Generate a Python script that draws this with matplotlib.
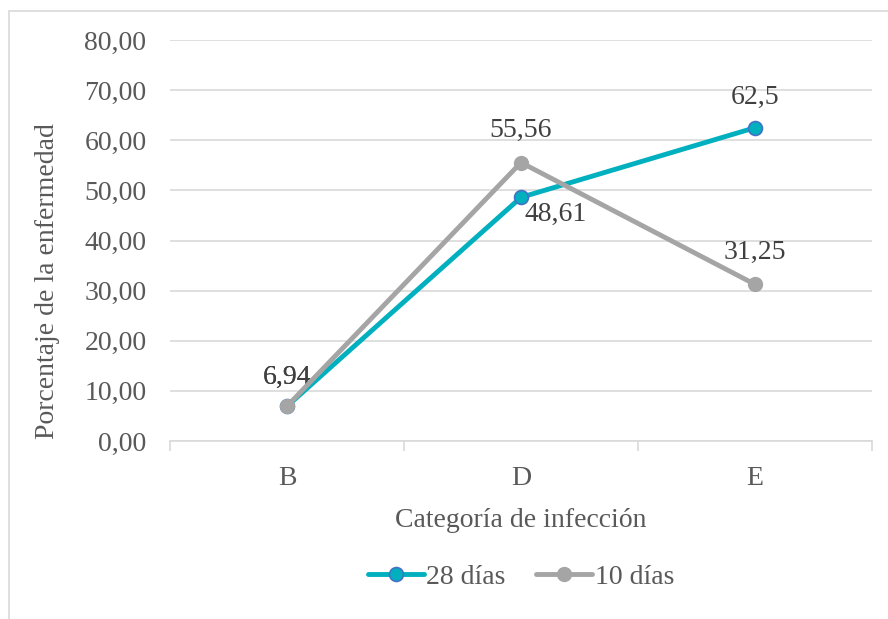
import matplotlib.pyplot as plt
from matplotlib.patches import Rectangle
from matplotlib.ticker import FixedLocator, FuncFormatter

plt.rcParams["font.family"] = ["Liberation Serif", "DejaVu Serif"]

categorias = ["B", "D", "E"]
dias_28 = [6.94, 48.61, 62.5]
dias_10 = [6.94, 55.56, 31.25]
etiquetas_28 = ["6,94", "48,61", "62,5"]
etiquetas_10 = ["6,94", "55,56", "31,25"]
y_ticks = [0, 10, 20, 30, 40, 50, 60, 70, 80]

TEAL = "#00B0BE"
GRIS = "#A5A5A5"
TEXTO = "#595959"
GRID = "#D9D9D9"

fig = plt.figure(figsize=(8.88, 6.19), dpi=100)
ax = fig.add_axes([170 / 888, 1 - 441 / 619, 702 / 888, 401 / 619])

# marco del área del gráfico
fig.patches.append(Rectangle((8.5 / 888, -0.05), 1.0, 1 - 11 / 619 + 0.05,
                             transform=fig.transFigure, fill=False,
                             edgecolor=GRID, linewidth=1.2))

x = list(range(len(categorias)))
ax.plot(x, dias_28, color=TEAL, linewidth=3.5, marker="o", markersize=10,
        markerfacecolor=TEAL, markeredgecolor="#4472C4", markeredgewidth=1.2,
        label="28 días", zorder=3, solid_capstyle="round")
ax.plot(x, dias_10, color=GRIS, linewidth=3.5, marker="o", markersize=10,
        markerfacecolor=GRIS, markeredgecolor=GRIS,
        label="10 días", zorder=4, solid_capstyle="round")

# etiquetas de datos
fs = 20
offsets_28 = [(0, 21), (25, -12), (0, 22)]
offsets_10 = [(0, 21), (0, 23), (0, 23)]
for i, (v, t) in enumerate(zip(dias_28, etiquetas_28)):
    ax.annotate(t, (i, v), xytext=offsets_28[i], textcoords="offset points",
                ha="center", va="center", fontsize=fs, color="#404040")
for i, (v, t) in enumerate(zip(dias_10, etiquetas_10)):
    ax.annotate(t, (i, v), xytext=offsets_10[i], textcoords="offset points",
                ha="center", va="center", fontsize=fs, color="#404040")

ax.set_xlim(-0.5, 2.5)
ax.set_ylim(0, 80)
ax.set_xticks(x)
ax.set_xticklabels(categorias)
ax.xaxis.set_minor_locator(FixedLocator([-0.5, 0.5, 1.5, 2.5]))
ax.set_yticks(y_ticks)
ax.yaxis.set_major_formatter(FuncFormatter(lambda v, p: f"{v:.2f}".replace(".", ",")))

ax.grid(axis="y", color=GRID, linewidth=1.2)
ax.set_axisbelow(True)
for s in ["top", "right", "left"]:
    ax.spines[s].set_visible(False)
ax.spines["bottom"].set_color(GRID)
ax.spines["bottom"].set_linewidth(1.2)

ax.tick_params(axis="y", length=0, pad=17, labelsize=fs, labelcolor=TEXTO)
ax.tick_params(axis="x", which="major", length=0, pad=18, labelsize=fs, labelcolor=TEXTO)
ax.tick_params(axis="x", which="minor", length=7, width=1.2, color=GRID)

ax.set_xlabel("Categoría de infección", fontsize=fs, color=TEXTO, labelpad=12)
ax.set_ylabel("Porcentaje de la enfermedad", fontsize=fs, color=TEXTO)
ax.yaxis.set_label_coords(-0.157, 0.40)

ax.legend(loc="center", bbox_to_anchor=(521 / 888, 1 - 577 / 619),
          bbox_transform=fig.transFigure, ncol=2, frameon=False,
          fontsize=fs, labelcolor=TEXTO, handlelength=2.0,
          handletextpad=0.1, columnspacing=1.1)

fig.savefig("out.png", dpi=100)
